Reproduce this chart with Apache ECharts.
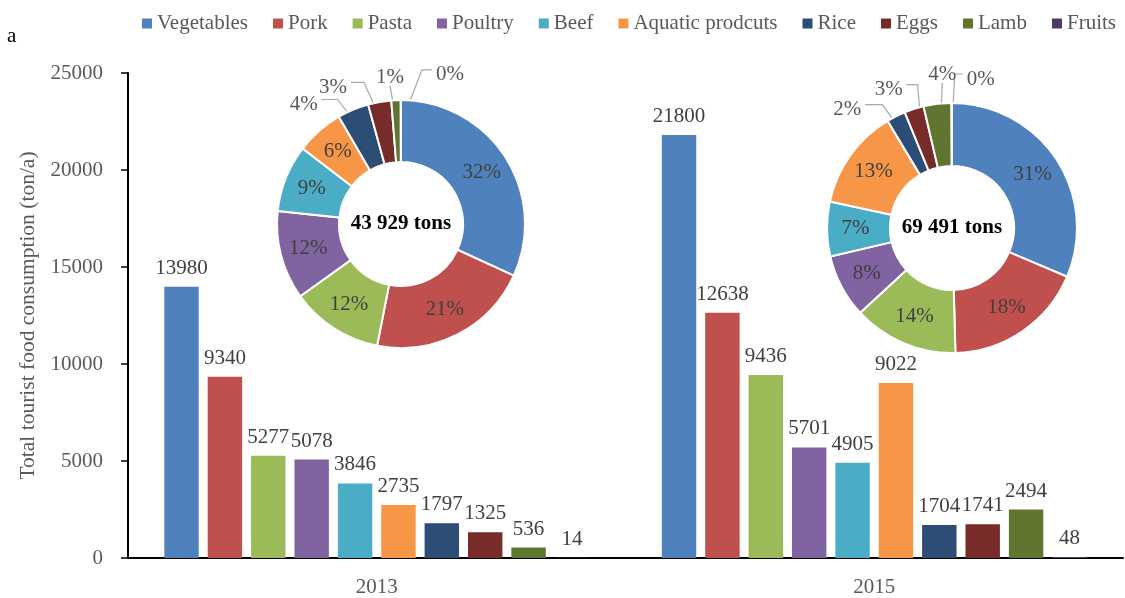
<!DOCTYPE html>
<html>
<head>
<meta charset="utf-8">
<script src="https://cdn.jsdelivr.net/npm/echarts@6/dist/echarts.min.js"></script>
<style>
  html, body { margin: 0; padding: 0; background: #fff; }
  #chart { width: 1125px; height: 598px; }
</style>
</head>
<body>
<div id="chart"></div>
<script>
// Food groups (legend order / series order)
const categories = ['Vegetables', 'Pork', 'Pasta', 'Poultry', 'Beef', 'Aquatic prodcuts', 'Rice', 'Eggs', 'Lamb', 'Fruits'];
// Survey years on the x axis
const years = ['2013', '2015'];
// Consumption in tons per year, one entry per food group
const values2013 = [13980, 9340, 5277, 5078, 3846, 2735, 1797, 1325, 536, 14];
const values2015 = [21800, 12638, 9436, 5701, 4905, 9022, 1704, 1741, 2494, 48];
// Totals written in the middle of each donut
const totalLabels = ['43 929 tons', '69 491 tons'];
// Y axis range
const yMin = 0, yMax = 25000, yStep = 5000;

const palette = ['#4F81BD', '#C0504D', '#9BBB59', '#8064A2', '#4BACC6', '#F79646', '#2C4D75', '#772C2A', '#5F7530', '#4D3B62'];
const FONT = "'Liberation Serif', 'Times New Roman', serif";

// Donut geometry (pixels)
const donuts = [
  { cx: 401, cy: 224, r0: 62, r1: 124 },
  { cx: 952, cy: 228, r0: 62, r1: 125 }
];

// Leader-line shapes for the thin slices: bend / end offsets and label side
const leaders = [
  {
    'Rice':  { bend: [-25, -33], end: [-16, 0], side: 'left' },
    'Eggs':  { bend: [-20, -44], end: [-13, 0], side: 'left' },
    'Lamb':  { bend: [-7, -39],  end: [0, 0],   side: 'top' },
    'Fruits':{ bend: [21, -55],  end: [10, 0],  side: 'right' }
  },
  {
    'Rice':  { bend: [-25, -34], end: [-17, 0], side: 'left' },
    'Eggs':  { bend: [-4, -48],  end: [-11, 0], side: 'left' },
    'Lamb':  { bend: [2, -46],   end: [0, 0],   side: 'top' },
    'Fruits':{ bend: [3, -54],   end: [8, 0],   side: 'right' }
  }
];

const chart = echarts.init(document.getElementById('chart'), null, { renderer: 'canvas' });

function sum(a) { return a.reduce((s, v) => s + v, 0); }

// Mid angle (radians, clockwise from 12 o'clock) of every slice
function midAngles(values) {
  const total = sum(values);
  let acc = 0;
  return values.map(v => {
    const a = (acc + v / 2) / total * Math.PI * 2;
    acc += v;
    return a;
  });
}

function buildDonut(values, k) {
  const total = sum(values);
  const geo = donuts[k];
  const mids = midAngles(values);
  const data = categories.map((name, i) => {
    const small = values[i] / total < 0.05;
    return {
      name: name,
      value: values[i],
      label: small
        ? { position: 'outside', color: '#595959' }
        : { position: 'inside', color: '#404040' },
      labelLine: { show: small }
    };
  });
  return {
    type: 'pie',
    name: years[k],
    center: [geo.cx, geo.cy],
    radius: [geo.r0, geo.r1],
    startAngle: 90,
    clockwise: true,
    avoidLabelOverlap: false,
    z: 5,
    itemStyle: { borderColor: '#ffffff', borderWidth: 2 },
    label: {
      show: true,
      fontFamily: FONT,
      fontSize: 21,
      formatter: p => Math.round(p.value / total * 100) + '%'
    },
    labelLine: { show: false, lineStyle: { color: '#A6A6A6', width: 1.2 } },
    emphasis: { disabled: true },
    labelLayout: function (params) {
      const name = categories[params.dataIndex];
      const ld = leaders[k][name];
      if (!ld || values[params.dataIndex] / total >= 0.05) return {};
      const ang = mids[params.dataIndex];
      const rs = geo.r1 * 0.8;
      const start = [geo.cx + rs * Math.sin(ang), geo.cy - rs * Math.cos(ang)];
      const bend = [start[0] + ld.bend[0], start[1] + ld.bend[1]];
      const end = [bend[0] + ld.end[0], bend[1] + ld.end[1]];
      const out = { labelLinePoints: [start, bend, end] };
      const dy = 5;
      if (ld.side === 'left') {
        out.x = end[0] - 4; out.y = end[1] + dy; out.align = 'right'; out.verticalAlign = 'middle';
      } else if (ld.side === 'right') {
        out.x = end[0] + 4; out.y = end[1] + dy; out.align = 'left'; out.verticalAlign = 'middle';
      } else {
        out.x = end[0]; out.y = end[1] - 13 + dy; out.align = 'center'; out.verticalAlign = 'middle';
      }
      return out;
    },
    data: data
  };
}

const barSeries = categories.map((name, i) => ({
  type: 'bar',
  name: name,
  data: [values2013[i], values2015[i]],
  barGap: '26%',
  barCategoryGap: '14.6%',
  itemStyle: { color: palette[i] },
  label: {
    show: true,
    position: 'top',
    distance: 8,
    color: '#404040',
    fontFamily: FONT,
    fontSize: 21
  },
  emphasis: { disabled: true }
}));

const option = {
  animation: false,
  color: palette,
  textStyle: { fontFamily: FONT },
  legend: {
    data: categories,
    left: 142,
    top: 13,
    width: 983,
    padding: 0,
    icon: 'rect',
    itemWidth: 10,
    itemHeight: 10,
    itemGap: 25,
    textStyle: { color: '#595959', fontSize: 21, fontFamily: FONT },
    selectedMode: false
  },
  grid: { left: 128, right: 2, top: 73, bottom: 36, containLabel: false },
  xAxis: {
    type: 'category',
    data: years,
    axisTick: { show: false },
    axisLine: { lineStyle: { color: '#000', width: 2 } },
    axisLabel: { color: '#595959', fontSize: 21, fontFamily: FONT, margin: 19 }
  },
  yAxis: {
    type: 'value',
    min: yMin,
    max: yMax,
    interval: yStep,
    name: 'Total tourist food consumption (ton/a)',
    nameLocation: 'middle',
    nameGap: 66,
    nameTextStyle: { color: '#595959', fontSize: 21.5, fontFamily: FONT },
    axisLine: { show: true, lineStyle: { color: '#000', width: 2 } },
    axisTick: { show: true, length: 7, lineStyle: { color: '#000', width: 1.5 } },
    splitLine: { show: false },
    axisLabel: { color: '#595959', fontSize: 21, fontFamily: FONT, margin: 25, formatter: v => String(v) }
  },
  graphic: [
    {
      type: 'text', left: 7, top: 26,
      style: { text: 'a', font: '21px ' + FONT, fill: '#000' }
    },
    {
      type: 'text', x: donuts[0].cx, y: donuts[0].cy, z: 100,
      style: { text: totalLabels[0], font: 'bold 21px ' + FONT, fill: '#000', align: 'center', verticalAlign: 'middle' }
    },
    {
      type: 'text', x: donuts[1].cx, y: donuts[1].cy, z: 100,
      style: { text: totalLabels[1], font: 'bold 21px ' + FONT, fill: '#000', align: 'center', verticalAlign: 'middle' }
    }
  ],
  series: barSeries.concat([buildDonut(values2013, 0), buildDonut(values2015, 1)])
};

chart.setOption(option);
</script>
</body>
</html>
